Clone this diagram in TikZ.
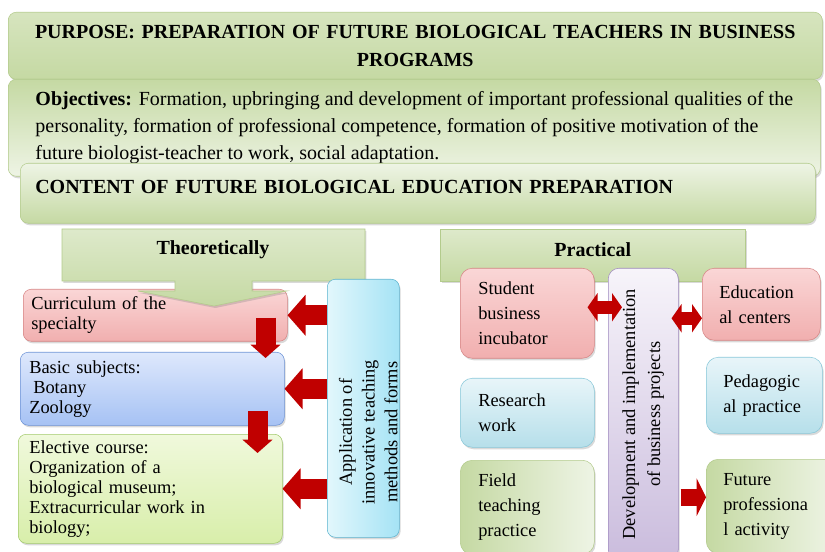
\documentclass[tikz,border=0pt]{standalone}
\usepackage{fontspec}
\setmainfont{Liberation Serif}
\usetikzlibrary{arrows.meta,shadows,positioning,calc}
\newdimen\px \px=0.75pt
\definecolor{gdark}{HTML}{C5D9A3}
\definecolor{glight}{HTML}{EEF4E5}
\definecolor{gline}{HTML}{B3CB8C}
\definecolor{pktop}{HTML}{FAD6D6}
\definecolor{pkbot}{HTML}{F1AFAF}
\definecolor{pkline}{HTML}{D68585}
\definecolor{bltop}{HTML}{DEE8FC}
\definecolor{blbot}{HTML}{A6C2F4}
\definecolor{blline}{HTML}{6C92D6}
\definecolor{eltop}{HTML}{F0F9DC}
\definecolor{elbot}{HTML}{D8EEAA}
\definecolor{elline}{HTML}{A3CA6C}
\definecolor{cyleft}{HTML}{E2F7FC}
\definecolor{cyright}{HTML}{A5E3F5}
\definecolor{cyline}{HTML}{5DB4CF}
\definecolor{lbtop}{HTML}{E8F5F9}
\definecolor{lbbot}{HTML}{B6DFEA}
\definecolor{lbline}{HTML}{88C8D9}
\definecolor{pptop}{HTML}{F7F4FA}
\definecolor{ppbot}{HTML}{CABCDD}
\definecolor{ppline}{HTML}{A08BC0}
\definecolor{arrred}{HTML}{C00000}

\begin{document}
\begin{tikzpicture}[x=0.75pt,y=-0.75pt,
    anybox/.style={draw, anchor=north west, rounded corners=6pt, inner ysep=0pt,
      drop shadow={opacity=.3,shadow xshift=1pt,shadow yshift=-1.5pt}},
    topbox/.style={anybox, draw=gline, font=\bfseries\fontsize{15}{21}\selectfont},
    leftbox/.style={anybox, align=left, font=\fontsize{13.8}{15}\selectfont},
    rightbox/.style={anybox, rounded corners=9pt, align=left, font=\fontsize{13.8}{18.75}\selectfont},
    callout/.style={draw=gline, top color=glight!60!gdark, bottom color=gdark,
      drop shadow={opacity=.3,shadow xshift=1pt,shadow yshift=-1.5pt}},
    pinkfill/.style={top color=pktop, bottom color=pkbot, draw=pkline},
    lbluefill/.style={top color=lbtop, bottom color=lbbot, draw=lbline},
    gfill/.style={left color=gdark, right color=glight, draw=gline},
    redarrow/.style={draw=arrred, line width=15pt, -{Triangle[length=13.5pt,width=30pt]}},
    downarrow/.style={draw=arrred, line width=15pt, -{Triangle[length=10pt,width=22pt]}},
    twoarrow/.style={draw=arrred, line width=10pt,
      {Triangle[length=7.5pt,width=21pt]}-{Triangle[length=7.5pt,width=21pt]}}]
  \useasboundingbox (0,0) rectangle (825,552);

  \node[topbox, top color=gdark!70!white, middle color=glight, bottom color=gdark,
    minimum width=814\px, minimum height=67\px, text width=800\px, align=center]
    (purpose) at (8,12) {PURPOSE: PREPARATION OF FUTURE BIOLOGICAL TEACHERS IN BUSINESS\\PROGRAMS};
  \node[topbox, top color=gdark, bottom color=glight, minimum width=812\px, minimum height=97\px,
    align=left, font=\fontsize{15}{20}\selectfont]
    (goals) at (8,79) {\textbf{Objectives:} Formation, upbringing and development of important professional qualities of the\\personality, formation of professional competence, formation of positive motivation of the\\future biologist-teacher to work, social adaptation.};
  \node[topbox, top color=glight, bottom color=gdark, minimum width=795\px, minimum height=60\px,
    inner xsep=15\px, text width=765\px, align=left, text height=10pt, text depth=10pt]
    (content) at (20,163) {CONTENT OF FUTURE BIOLOGICAL EDUCATION PREPARATION};

  \node[leftbox, pinkfill, minimum width=264\px, minimum height=52\px, inner xsep=8\px, text width=248\px]
    (curr) at (23,289) {Curriculum of the\\specialty};
  \node[leftbox, top color=bltop, bottom color=blbot, draw=blline, minimum width=264\px,
    minimum height=73\px, inner xsep=9\px, text width=246\px]
    (basic) at (20,352) {Basic subjects:\\\hspace*{4\px}Botany\\Zoology};
  \node[leftbox, top color=eltop, bottom color=elbot, draw=elline, minimum width=264\px,
    minimum height=109\px, inner xsep=11\px, text width=242\px]
    (elective) at (18,434) {Elective course:\\Organization of a\\biological museum;\\Extracurricular work in\\biology;};

  \path[callout] (62,229) -- (365,229) -- (365,281) -- (252,281) -- (252,291) -- (287,291)
    -- (214,306) -- (138,291) -- (175,291) -- (175,281) -- (62,281) -- cycle;
  \node[font=\bfseries\fontsize{15}{18}\selectfont] (theo) at (213,250) {Theoretically};

  \node[anybox, left color=cyleft, right color=cyright, draw=cyline, minimum width=72\px,
    minimum height=258\px] (appl) at (327,279) {};
  \node[rotate=90, align=center, font=\fontsize{13.8}{17}\selectfont]
    (appltext) at ($(appl.center)+(5,24)$) {Application of\\innovative teaching\\methods and forms};

  \draw[redarrow] (appl.west |- curr.east) -- (curr.east);
  \draw[redarrow] (appl.west |- basic.east) -- (basic.east);
  \draw[redarrow] (appl.west |- elective.east) -- (elective.east);
  \draw[downarrow] ($(curr.south east)+(-22,-24)$) -- ($(basic.north east)+(-19,6)$);
  \draw[downarrow] ($(basic.south east)+(-27,-15)$) -- ($(elective.north east)+(-25,19)$);

  \node[anybox, rounded corners=0pt, top color=glight!60!gdark, bottom color=gdark, draw=gline,
    minimum width=305\px, minimum height=52\px, text height=10pt, text depth=7.5pt,
    font=\bfseries\fontsize{15}{18}\selectfont]
    (practical) at (440,229) {Practical};

  \node[rightbox, pinkfill, minimum width=134\px, minimum height=90\px, inner xsep=18\px, text width=98\px]
    (incub) at (460,268) {Student\\business\\incubator};
  \node[anybox, rounded corners=8pt, top color=pptop, bottom color=ppbot, draw=ppline,
    minimum width=70\px, minimum height=292\px] (dev) at (608,268) {};
  \node[rotate=90, align=center, font=\fontsize{13.8}{18.75}\selectfont]
    (devtext) at (dev.center) {Development and implementation\\of business projects};
  \node[rightbox, pinkfill, minimum width=118\px, minimum height=72\px, inner xsep=17\px, text width=84\px]
    (educ) at (702,268) {Education\\al centers};
  \node[rightbox, lbluefill, minimum width=134\px, minimum height=69\px, inner xsep=18\px, text width=98\px]
    (research) at (460,378) {Research\\work};
  \node[rightbox, lbluefill, minimum width=116\px, minimum height=76\px, inner xsep=17\px, text width=82\px]
    (pedag) at (706,357) {Pedagogic\\al practice};
  \node[rightbox, gfill, minimum width=134\px, minimum height=94\px, inner xsep=18\px, text width=98\px]
    (field) at (460,460) {Field\\teaching\\practice};
  \node[rightbox, gfill, minimum width=130\px, minimum height=94\px, inner xsep=17\px, text width=96\px]
    (future) at (706,459) {Future\\professiona\\l activity};

  \draw[twoarrow] ($(incub.east)+(-7,-6)$) -- ($(dev.west |- incub.east)+(14,-6)$);
  \draw[twoarrow] ($(dev.east |- educ.west)+(-7,14)$) -- ($(educ.west)+(0,14)$);
  \draw[draw=arrred, line width=12.75pt, -{Triangle[length=7pt,width=28pt]}]
    ($(dev.east |- future.west)+(2,-9)$) -- ($(future.west)+(0,-9)$);
\end{tikzpicture}
\end{document}
